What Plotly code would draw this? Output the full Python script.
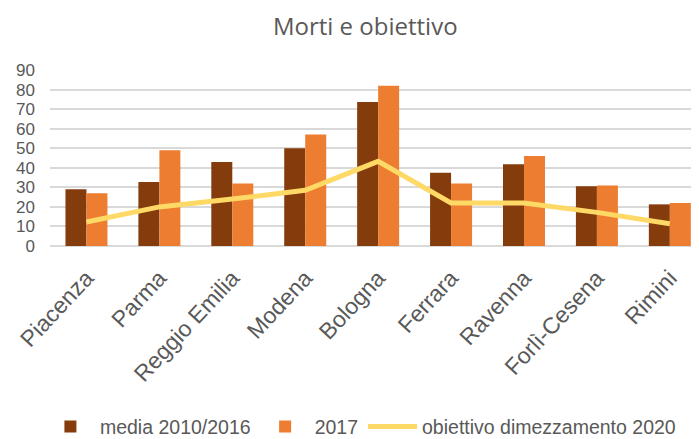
import plotly.graph_objects as go

categories = ["Piacenza", "Parma", "Reggio Emilia", "Modena", "Bologna",
              "Ferrara", "Ravenna", "Forlì-Cesena", "Rimini"]
media_2010_2016 = [29, 32.7, 43, 50, 73.6, 37.5, 41.8, 30.5, 21.3]
anno_2017 = [27, 49, 32, 57, 82, 32, 46, 31, 22]
obiettivo_2020 = [12.3, 20, 24, 28.5, 43.3, 22, 22, 17.2, 11.4]
y_ticks = [0, 10, 20, 30, 40, 50, 60, 70, 80, 90]

FONT = "Liberation Sans, Arial, sans-serif"
GREY = "#595959"

fig = go.Figure()
fig.add_trace(go.Bar(x=categories, y=media_2010_2016, name="media 2010/2016",
                     marker=dict(color="#843C0C", line=dict(width=0))))
fig.add_trace(go.Bar(x=categories, y=anno_2017, name="2017",
                     marker=dict(color="#ED7D31", line=dict(width=0))))
fig.add_trace(go.Scatter(x=categories, y=obiettivo_2020, name="obiettivo dimezzamento 2020",
                         mode="lines", line=dict(color="#FFD966", width=5)))

# The page body adds an 8px margin, so the figure is 8px smaller on each axis.
fig.update_layout(
    width=691, height=431,
    paper_bgcolor="white", plot_bgcolor="white",
    margin=dict(l=42, r=0, t=62, b=193, autoexpand=False),
    title=dict(text="Morti e obiettivo", x=0.517, xanchor="center", y=0.958, yanchor="middle",
               font=dict(family="Open Sans, Liberation Sans, sans-serif", size=24, color=GREY)),
    barmode="group", bargap=0.424, bargroupgap=0,
    font=dict(family=FONT, color=GREY),
    legend=dict(orientation="h", x=-0.014, xanchor="left", y=-1.028, yanchor="middle",
                font=dict(family=FONT, size=19.5, color=GREY), traceorder="normal",
                itemwidth=49),
    showlegend=True,
)
fig.update_xaxes(range=[-0.5, 8.4], tickangle=-47,
                 tickfont=dict(family=FONT, size=23, color=GREY),
                 showgrid=False, showline=False, ticks="", automargin=False,
                 ticklabelstandoff=13)
fig.update_yaxes(range=[0, 90], tickvals=y_ticks, showgrid=True, gridcolor="#D9D9D9",
                 gridwidth=1.5, zeroline=True, zerolinecolor="#D9D9D9", zerolinewidth=1.5,
                 tickfont=dict(family=FONT, size=17, color=GREY), ticks="", ticklen=0,
                 automargin=False, ticklabelstandoff=14)

fig.write_html("out.html")
